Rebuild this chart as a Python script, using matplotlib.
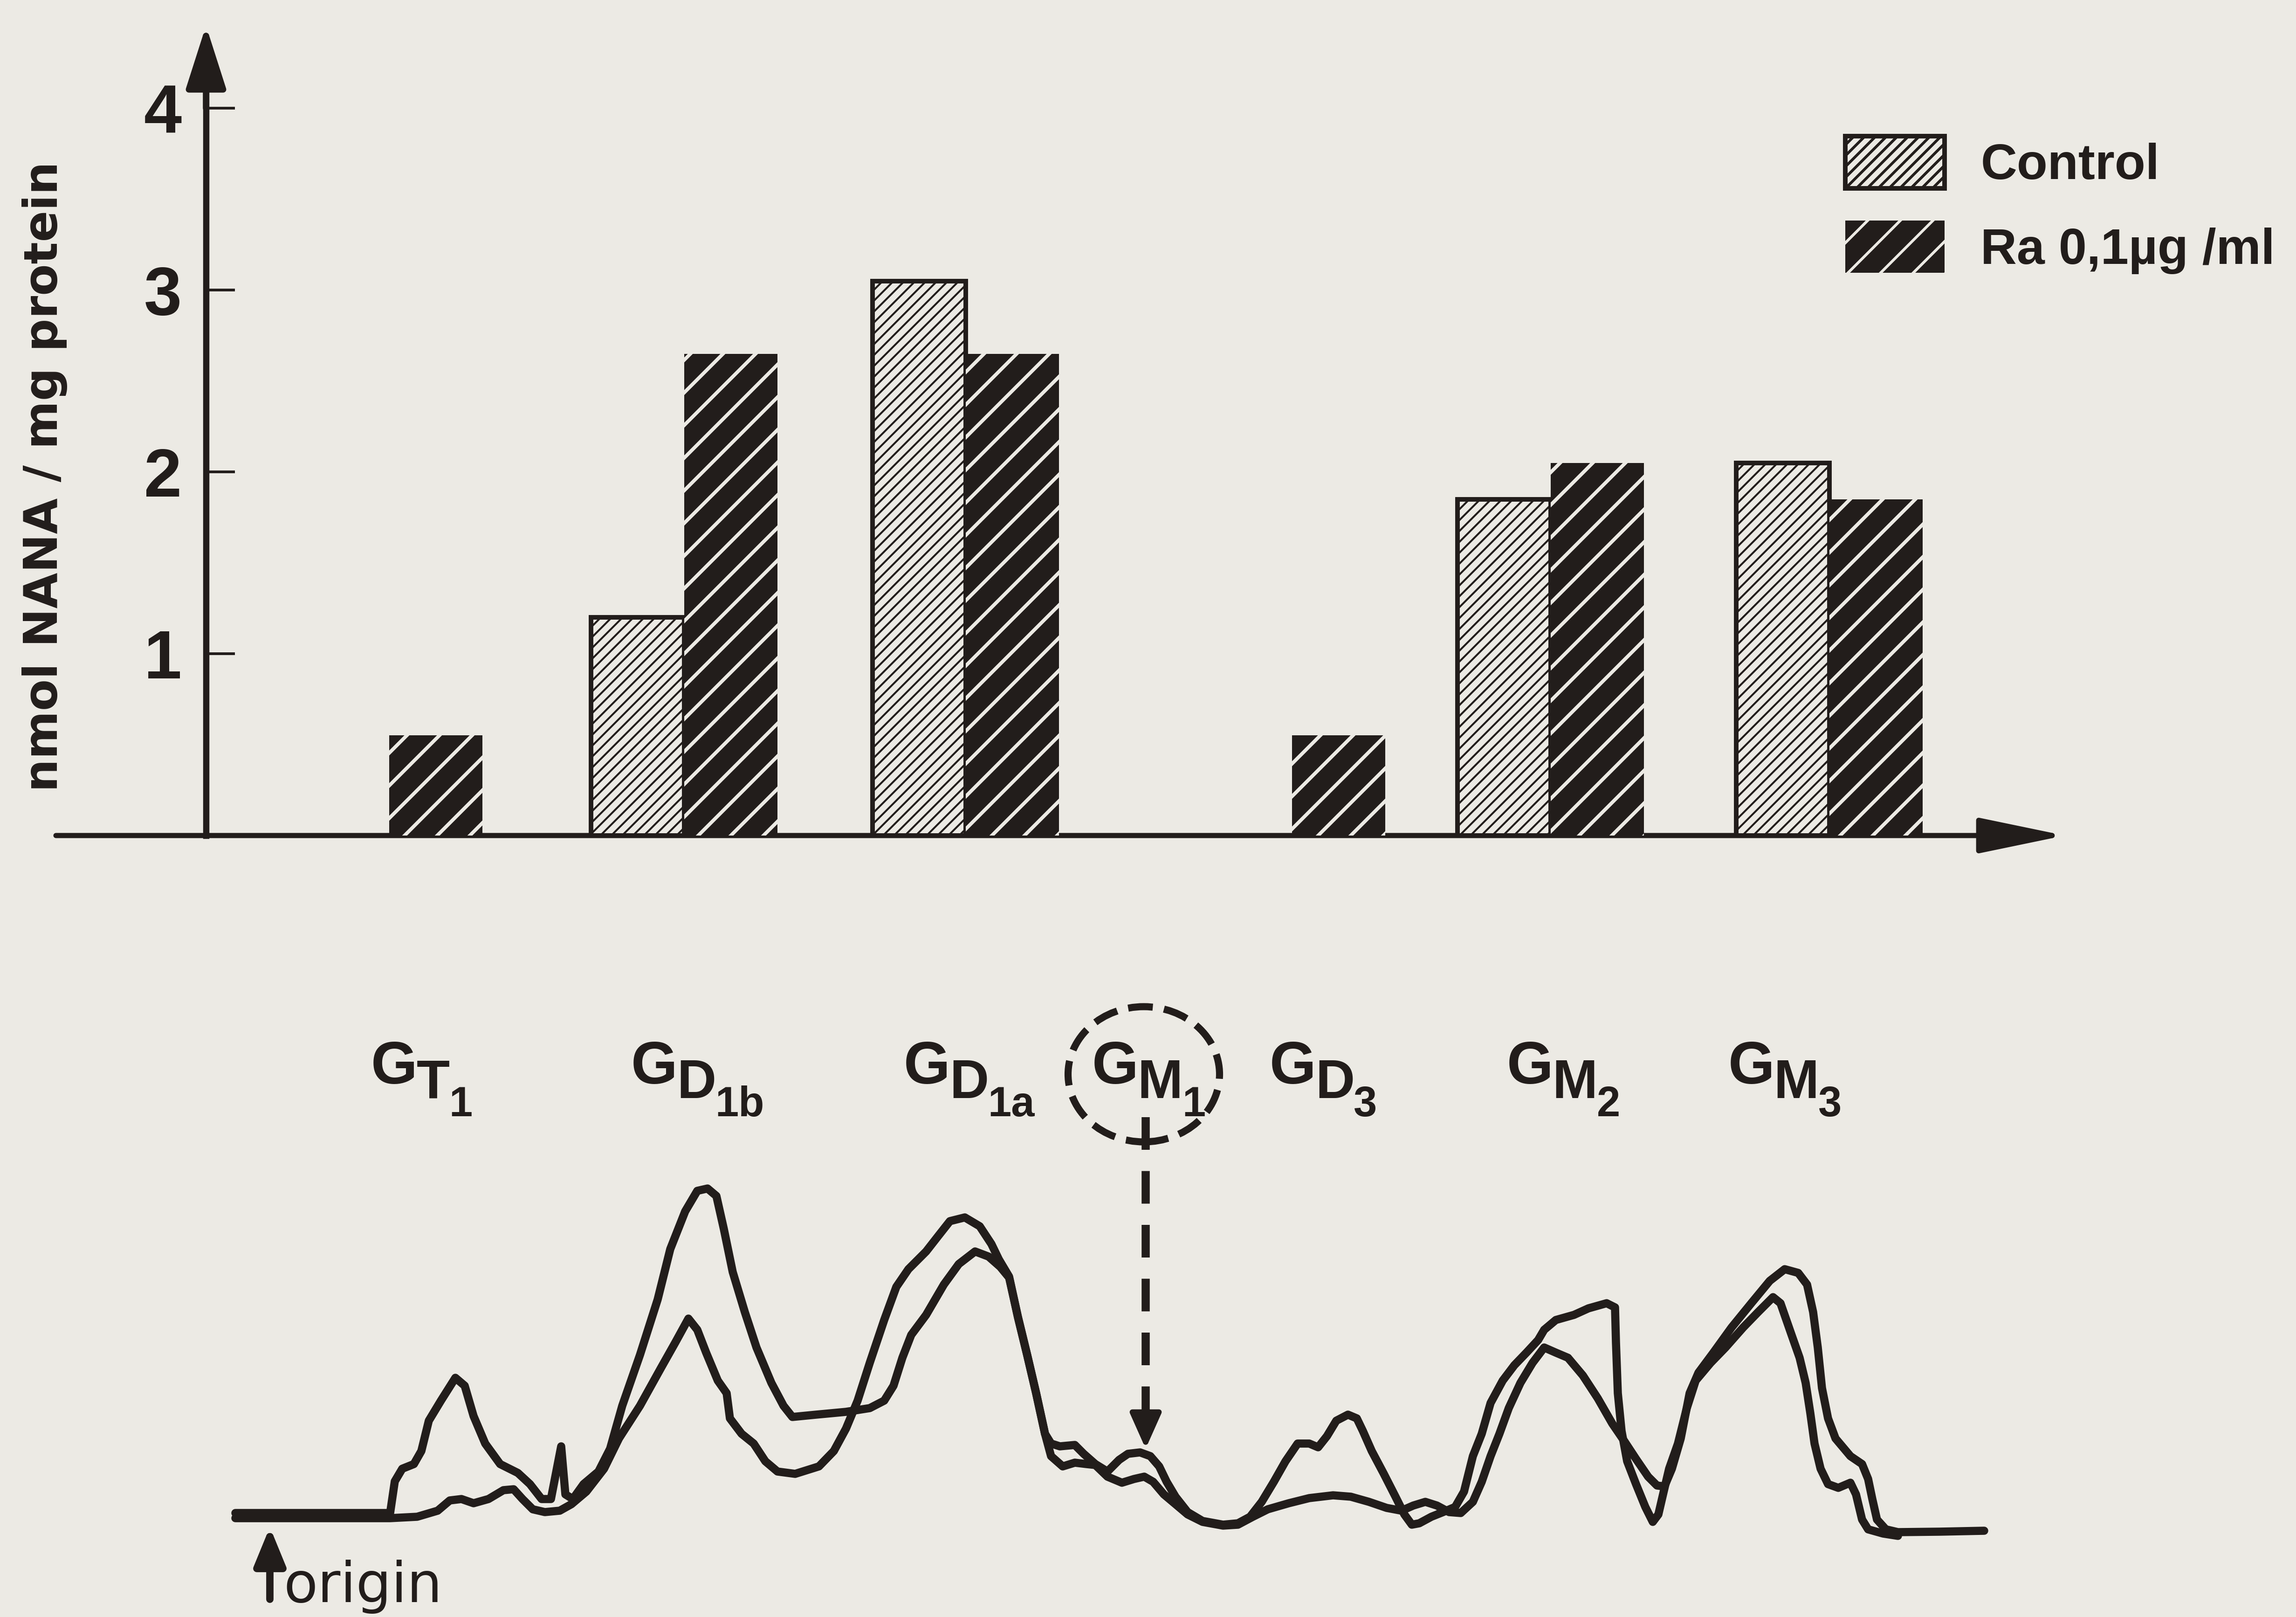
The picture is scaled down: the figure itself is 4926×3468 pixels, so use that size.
import matplotlib
matplotlib.use("Agg")
import matplotlib.pyplot as plt
from matplotlib.patches import Ellipse

# ---------------------------------------------------------------------------
# Gangliosides separated by thin-layer chromatography
# ---------------------------------------------------------------------------
gangliosides = ["GT1", "GD1b", "GD1a", "GM1", "GD3", "GM2", "GM3"]
# migration distance of each band from the origin (scan units)
band_pos = [35.6, 88.9, 149.3, 187.9, 229.3, 274.8, 334.6]

# nmol NANA / mg protein (None = not detected)
control_nana = [None, 1.20, 3.05, None, None, 1.85, 2.05]
treated_nana = [0.55, 2.65, 2.65, None, 0.55, 2.05, 1.85]

series_labels = ["Control", "Ra 0,1µg /ml"]
y_ticks = [1, 2, 3, 4]
y_label = "nmol NANA / mg protein"

# densitometric scans of the plate: distance from origin, absorbance (a.u.)
treated_scan_x = [-7.4, 25.8, 26.8, 28.4, 30.9, 32.5, 34.1, 36.7, 39.8, 41.8,
                  43.7, 46.2, 49.4, 53.2, 55.8, 58.3, 60.3, 62.5, 63.4, 65.0,
                  67.3, 70.5, 73.0, 75.6, 79.4, 83.2, 85.9, 89.1, 91.7, 93.9,
                  95.8, 97.4, 99.3, 101.9, 104.4, 107.6, 110.2, 112.1, 117.2, 123.6,
                  128.7, 131.8, 133.8, 135.7, 137.6, 140.8, 144.6, 147.8, 151.3, 154.2,
                  156.7, 158.6, 160.5, 162.5, 164.4, 166.3, 167.6, 169.5, 172.7, 174.6,
                  177.1, 179.7, 182.2, 184.1, 186.7, 188.9, 190.8, 192.4, 194.3, 196.9,
                  200.1, 204.5, 207.7, 210.3, 212.8, 215.4, 217.9, 220.5, 223.0, 224.9,
                  226.8, 228.8, 231.3, 233.2, 234.5, 236.4, 239.0, 241.5, 243.4, 245.0,
                  246.6, 249.2, 251.7, 254.3, 256.2, 258.1, 260.0, 261.9, 264.5, 267.0,
                  269.6, 272.1, 273.4, 275.9, 279.8, 282.9, 286.8, 288.6, 288.8, 289.2,
                  290.0, 291.2, 293.1, 295.1, 296.7, 297.9, 298.9, 300.2, 302.1, 304.0,
                  305.9, 309.1, 312.3, 316.1, 319.3, 322.5, 324.1, 326.3, 328.2, 329.5,
                  330.5, 331.4, 332.7, 334.3, 336.5, 339.1, 340.3, 341.6, 342.9, 346.1,
                  349.3]
treated_scan_y = [5.5, 5.5, 12.3, 15.0, 16.0, 18.8, 25.3, 29.6, 34.5, 32.8,
                  26.3, 20.4, 16.0, 14.1, 11.7, 8.5, 8.5, 19.8, 9.5, 8.5,
                  11.7, 14.4, 19.3, 28.5, 39.4, 51.3, 62.1, 70.2, 74.6, 75.1,
                  73.5, 66.4, 57.2, 48.6, 41.0, 33.4, 28.5, 26.1, 26.6, 27.2,
                  28.0, 29.6, 32.8, 38.8, 43.7, 48.0, 54.5, 58.9, 61.6, 60.5,
                  58.3, 56.0, 47.5, 39.3, 31.2, 22.5, 20.4, 19.8, 20.1, 18.2,
                  16.0, 14.4, 16.9, 18.2, 18.5, 17.7, 15.5, 12.2, 9.0, 5.7,
                  3.8, 3.0, 3.3, 4.7, 7.9, 12.2, 16.6, 20.4, 20.4, 19.6,
                  22.0, 25.3, 26.6, 25.8, 23.1, 18.8, 13.9, 9.0, 5.2, 3.0,
                  3.3, 4.7, 5.7, 6.8, 10.1, 17.7, 22.5, 29.1, 33.9, 37.2,
                  39.9, 42.6, 44.8, 46.9, 48.0, 49.4, 50.5, 49.6, 42.1, 31.2,
                  23.1, 16.6, 11.7, 6.8, 3.6, 5.2, 9.5, 15.0, 20.4, 28.0,
                  33.9, 37.7, 41.0, 45.3, 48.6, 51.8, 50.5, 44.2, 38.8, 33.4,
                  26.9, 20.4, 15.0, 11.7, 10.9, 12.0, 9.5, 4.1, 2.0, 1.1,
                  0.6]

control_scan_x = [-7.4, 25.8, 31.6, 36.0, 38.6, 41.1, 43.7, 46.9, 50.1, 52.3,
                  54.2, 56.4, 59.0, 62.2, 64.7, 67.9, 71.7, 74.9, 79.4, 83.9,
                  87.0, 89.8, 91.7, 93.6, 96.1, 98.0, 98.7, 101.2, 103.8, 106.3,
                  108.9, 112.7, 117.8, 121.0, 123.6, 126.1, 128.7, 131.8, 134.4, 137.0,
                  140.8, 143.3, 145.9, 149.1, 152.3, 154.8, 156.4, 158.6, 160.5, 162.5,
                  164.4, 166.3, 167.6, 170.1, 172.7, 175.2, 177.1, 179.7, 182.8, 185.4,
                  187.6, 189.5, 191.8, 194.3, 196.9, 200.1, 204.5, 207.7, 210.9, 214.1,
                  218.6, 223.0, 228.1, 231.9, 235.8, 239.6, 242.8, 245.3, 247.9, 250.4,
                  253.0, 255.5, 258.1, 260.0, 261.9, 263.8, 265.8, 268.3, 270.9, 273.4,
                  275.9, 278.5, 281.7, 284.9, 288.0, 290.6, 293.1, 295.7, 297.6, 299.2,
                  300.8, 302.7, 304.6, 306.5, 309.7, 313.6, 318.0, 321.8, 325.0, 327.9,
                  329.8, 331.1, 332.1, 333.0, 334.3, 335.9, 339.1, 341.6, 342.9, 343.8,
                  344.8, 346.7, 349.3, 358.2, 367.8]
control_scan_y = [4.4, 4.4, 4.7, 6.0, 8.2, 8.5, 7.6, 8.5, 10.4, 10.6,
                  8.5, 6.3, 5.7, 6.0, 7.4, 10.1, 15.0, 21.5, 28.5, 36.6,
                  42.1, 47.2, 44.8, 39.9, 33.9, 31.2, 25.8, 22.5, 20.4, 16.6,
                  14.4, 13.9, 15.5, 18.8, 23.6, 29.6, 37.7, 46.9, 54.0, 57.8,
                  61.6, 64.8, 68.1, 68.9, 67.0, 63.2, 59.9, 56.2, 47.5, 39.3,
                  31.2, 22.5, 17.7, 15.5, 16.3, 16.0, 15.8, 13.3, 12.0, 12.8,
                  13.3, 12.2, 9.5, 7.4, 5.2, 3.6, 2.8, 3.0, 4.7, 6.3,
                  7.6, 8.7, 9.3, 9.0, 7.9, 6.6, 6.0, 7.1, 7.9, 7.1,
                  5.7, 5.5, 7.9, 12.2, 17.7, 22.5, 28.0, 33.4, 37.7, 41.0,
                  39.9, 38.8, 35.0, 30.1, 24.7, 20.9, 17.1, 13.3, 11.4, 11.2,
                  15.0, 21.5, 31.2, 35.6, 39.9, 45.3, 50.7, 55.3, 57.8, 57.0,
                  54.5, 48.6, 41.0, 32.3, 25.8, 21.5, 17.7, 16.0, 12.8, 8.5,
                  4.1, 2.0, 1.4, 1.5, 1.7]

# ---------------------------------------------------------------------------
# Style / layout
# ---------------------------------------------------------------------------
INK = "#221d1b"
PAPER = "#ECEAE4"
W, H, DPI = 4926, 3468, 420
SANS = ["Liberation Sans", "DejaVu Sans"]

X_LIM = (-57.9, 434.7)
Y_AXIS_X = -13.7            # position of the value axis on the scan scale
BAR_HALF = 10.0             # half width of one bar
LABEL_X = [35.0, 91.5, 150.0, 191.0, 228.5, 280.0, 327.5]
CTRL_HATCH_LW = 0.7
TRT_HATCH_LW = 1.3

plt.rcParams["hatch.linewidth"] = 1.0

fig = plt.figure(figsize=(W / DPI, H / DPI), dpi=DPI, facecolor=PAPER)

# ---------------------------------------------------------------------------
# Upper panel: bar chart
# ---------------------------------------------------------------------------
ax = fig.add_axes([0, 1 - 1900 / H, 1, 1900 / H])
ax.set_facecolor("none")
ax.set_xlim(*X_LIM)
ax.set_ylim(-0.277, 4.595)

ctrl_x, ctrl_h, trt_x, trt_h = [], [], [], []
for p, c, t in zip(band_pos, control_nana, treated_nana):
    if c is not None and t is not None:
        ctrl_x.append(p - BAR_HALF); ctrl_h.append(c)
        trt_x.append(p + BAR_HALF); trt_h.append(t)
    elif c is not None:
        ctrl_x.append(p); ctrl_h.append(c)
    elif t is not None:
        trt_x.append(p); trt_h.append(t)

with plt.rc_context({"hatch.linewidth": CTRL_HATCH_LW}):
    ctrl_bars = ax.bar(ctrl_x, ctrl_h, width=2 * BAR_HALF, color=PAPER,
                       edgecolor=INK, hatch="//////", linewidth=1.7,
                       label=series_labels[0], zorder=3)
with plt.rc_context({"hatch.linewidth": TRT_HATCH_LW}):
    trt_bars = ax.bar(trt_x, trt_h, width=2 * BAR_HALF, color=INK,
                      edgecolor=PAPER, hatch="//", linewidth=0,
                      label=series_labels[1], zorder=3)
for b in ctrl_bars:
    if hasattr(b, "set_hatch_linewidth"):
        b.set_hatch_linewidth(CTRL_HATCH_LW)
for b in trt_bars:
    if hasattr(b, "set_hatch_linewidth"):
        b.set_hatch_linewidth(TRT_HATCH_LW)

for s in ("top", "right", "bottom"):
    ax.spines[s].set_visible(False)
ax.spines["left"].set_position(("data", Y_AXIS_X))
ax.spines["left"].set_bounds(0, 4.2)
ax.spines["left"].set_linewidth(2.3)
ax.spines["left"].set_color(INK)
ax.set_xticks([])
ax.set_yticks(y_ticks)
ax.set_yticklabels([str(v) for v in y_ticks])
ax.tick_params(axis="y", direction="in", length=10.6, width=1.0, pad=8.9,
               colors=INK, labelsize=25)
for lab in ax.get_yticklabels():
    lab.set_fontweight("bold")
    lab.set_fontfamily(SANS)

# arrow heads of the axes
ax.annotate("", xy=(Y_AXIS_X, 4.454), xytext=(Y_AXIS_X, 4.0),
            arrowprops=dict(arrowstyle="-|>,head_length=19.7,head_width=6.3",
                            color=INK, lw=2.3, shrinkA=0, shrinkB=0,
                            mutation_scale=1))
ax.annotate("", xy=(385.1, 0), xytext=(-45.9, 0),
            arrowprops=dict(arrowstyle="-|>,head_length=27,head_width=5.6",
                            color=INK, lw=1.9, shrinkA=0, shrinkB=0,
                            mutation_scale=1), zorder=2)

ax.set_ylabel(y_label, fontsize=17, fontweight="bold", color=INK,
              fontfamily="DejaVu Sans")
ax.yaxis.set_label_coords(96 / W, 1 - 1022 / 1900)
ax.yaxis.label.set_va("center")

LEG_FS = 18.5
leg = ax.legend(handles=[ctrl_bars, trt_bars], loc="upper left",
                bbox_to_anchor=(3959 / W, 1 - 292 / H),
                bbox_transform=fig.transFigure, frameon=False, borderpad=0,
                borderaxespad=0, handlelength=1.97, handleheight=1.22,
                handletextpad=0.72, labelspacing=0.62,
                prop=dict(family=SANS, weight="bold", size=LEG_FS))
for t in leg.get_texts():
    t.set_color(INK)

# ---------------------------------------------------------------------------
# Lower panel: densitometric scans
# ---------------------------------------------------------------------------
ax2 = fig.add_axes([0, 0, 1, 1568 / H])
ax2.set_xlim(*X_LIM)
ax2.set_ylim(-16.8, 140)
ax2.axis("off")

line_kw = dict(color=INK, lw=3.0, solid_joinstyle="round",
               solid_capstyle="round")
ax2.plot(control_scan_x, control_scan_y, **line_kw)
ax2.plot(treated_scan_x, treated_scan_y, **line_kw)

# band names: G + class letter + subscript
txt_kw = dict(color=INK, fontfamily=SANS, fontweight="bold")
gm1_label_x = None
for name, lx in zip(gangliosides, LABEL_X):
    mid = ax2.text(lx, 94.5, name[1], ha="center", va="baseline",
                   fontsize=20, **txt_kw)
    ax2.annotate("G", xy=(0, 0), xycoords=mid, xytext=(0.3, 4.8),
                 textcoords="offset points", ha="right", va="bottom",
                 fontsize=22, **txt_kw)
    ax2.annotate(name[2:], xy=(1, 0), xycoords=mid, xytext=(-0.3, -5.8),
                 textcoords="offset points", ha="left", va="bottom",
                 fontsize=15.5, **txt_kw)
    if name == "GM1":
        gm1_label_x = lx

# GM1 marker: dashed ring around its label and dashed arrow to its band
gm1_x = band_pos[gangliosides.index("GM1")]
ax2.add_patch(Ellipse((gm1_label_x - 3.5, 99.6), 32.5, 29.0, fill=False,
                      edgecolor=INK, lw=2.6, linestyle=(0, (3.5, 1.6))))
ax2.plot([gm1_x, gm1_x], [90.4, 25.8], color=INK, lw=3.0,
         linestyle=(0, (4, 2.6)), solid_capstyle="butt")
ax2.annotate("", xy=(gm1_x, 19.3), xytext=(gm1_x, 27.0),
             arrowprops=dict(arrowstyle="-|>,head_length=11,head_width=4.9",
                             color=INK, lw=2.0, shrinkA=0, shrinkB=0,
                             mutation_scale=1))

# origin of the chromatogram
ax2.annotate("", xy=(0, 2.5), xytext=(0, -13.0),
             arrowprops=dict(arrowstyle="-|>,head_length=11.7,head_width=4.8",
                             color=INK, lw=2.7, shrinkA=0, shrinkB=0,
                             mutation_scale=1))
ax2.text(2.9, -13.6, "origin", ha="left", va="baseline", fontsize=20.5,
         color=INK, fontfamily="DejaVu Sans")

fig.savefig("out.png", dpi=DPI, facecolor=PAPER)
